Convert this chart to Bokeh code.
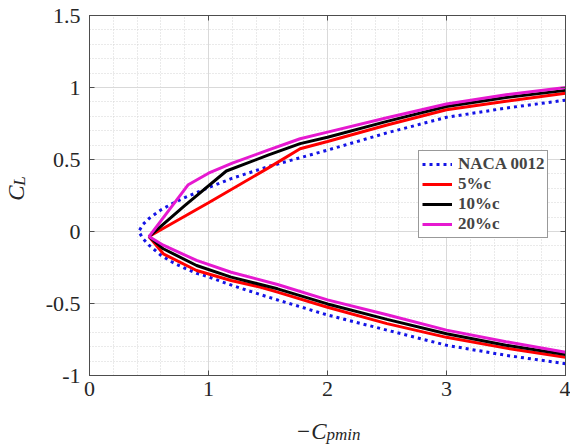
import math
from bokeh.plotting import figure
from bokeh.models import Range1d, FixedTicker, LinearAxis, Label, CustomLabelingPolicy
from bokeh.layouts import row, column
from bokeh.embed import file_html
from bokeh.resources import INLINE

# ---------------- data ----------------
# NACA 0012 (lower branch from x=4 to the tip, then upper branch)
NACA_X = [4.0, 3.5, 3.0, 2.5, 2.0, 1.5, 1.2, 1.0, 0.9, 0.8, 0.7, 0.6, 0.5, 0.45, 0.414,
          0.45, 0.5, 0.6, 0.7, 0.8, 0.9, 1.0, 1.2, 1.5, 2.0, 2.5, 3.0, 3.5, 4.0]
NACA_Y = [-0.918, -0.86, -0.79, -0.685, -0.58, -0.455, -0.375, -0.315, -0.29, -0.255, -0.215, -0.165, -0.095, -0.05, 0.0,
          0.05, 0.09, 0.15, 0.195, 0.235, 0.27, 0.305, 0.37, 0.45, 0.565, 0.685, 0.793, 0.857, 0.912]

# 5%c
C5_X = [4.0, 3.5, 3.0, 2.5, 2.0, 1.58, 1.44, 1.19, 0.9, 0.62, 0.5,
        1.0, 1.5, 1.77, 2.0, 2.5, 3.0, 3.5, 4.0]
C5_Y = [-0.873, -0.81, -0.735, -0.64, -0.526, -0.421, -0.387, -0.34, -0.271, -0.155, -0.035,
        0.2, 0.44, 0.575, 0.625, 0.74, 0.845, 0.905, 0.96]

# 10%c
C10_X = [4.0, 3.5, 3.0, 2.5, 2.0, 1.58, 1.19, 0.9, 0.62, 0.5,
         0.8, 1.15, 1.5, 1.77, 2.0, 2.5, 3.0, 3.5, 4.0]
C10_Y = [-0.854, -0.79, -0.71, -0.61, -0.503, -0.398, -0.317, -0.236, -0.12, -0.035,
         0.18, 0.42, 0.53, 0.61, 0.655, 0.765, 0.868, 0.93, 0.98]

# 20%c
C20_X = [4.0, 3.5, 3.0, 2.5, 2.0, 1.58, 1.19, 0.9, 0.62, 0.5,
         0.83, 1.0, 1.2, 1.5, 1.77, 2.0, 2.5, 3.0, 3.5, 4.0]
C20_Y = [-0.838, -0.765, -0.685, -0.578, -0.475, -0.368, -0.283, -0.201, -0.095, -0.035,
         0.325, 0.405, 0.475, 0.565, 0.644, 0.69, 0.79, 0.885, 0.95, 1.0]

SERIES_NAMES = ["NACA 0012", "5%c", "10%c", "20%c"]
SERIES_COLORS = ["#1414e6", "#ff0000", "#000000", "#e619d0"]

X_TICKS = [0, 1, 2, 3, 4]
X_MINOR = [round(0.2 * i, 1) for i in range(21)]
Y_TICKS = [-1, -0.5, 0, 0.5, 1, 1.5]
Y_MINOR = [round(-1 + 0.1 * i, 1) for i in range(26)]
X_LABELS = {0: "0", 1: "1", 2: "2", 3: "3", 4: "4"}
Y_LABELS = {-1: "-1", -0.5: "-0.5", 0: "0", 0.5: "0.5", 1: "1", 1.5: "1.5"}

Y_TITLE = ("C", "L")
X_TITLE = ("\u2212C", "pmin")

FONT = "Liberation Serif"
AXIS_COLOR = "#4d4d4d"
TEXT_COLOR = "#262626"

# ---------------- main plot ----------------
p = figure(width=540, height=408, x_range=Range1d(0, 4), y_range=Range1d(-1, 1.5),
           output_backend="svg", toolbar_location=None,
           min_border_left=59, min_border_right=5, min_border_top=15, min_border_bottom=33)
p.background_fill_color = "white"
p.border_fill_color = "white"
p.outline_line_color = AXIS_COLOR

xt = FixedTicker(ticks=X_TICKS, minor_ticks=X_MINOR)
yt = FixedTicker(ticks=Y_TICKS, minor_ticks=Y_MINOR)


def style_axis(ax, ticker, labels, show_labels=True):
    ax.ticker = ticker
    ax.axis_line_color = AXIS_COLOR
    ax.major_tick_line_color = AXIS_COLOR
    ax.major_tick_in = 5
    ax.major_tick_out = 0
    ax.minor_tick_in = 0
    ax.minor_tick_out = 0
    ax.major_label_text_font = FONT
    ax.major_label_text_color = TEXT_COLOR
    if show_labels:
        ax.major_label_overrides = labels
        ax.major_label_text_font_size = "22px"
    else:
        ax.major_label_text_font_size = "0px"
        ax.major_label_standoff = 0
        ax.major_label_policy = CustomLabelingPolicy(code="return []")


style_axis(p.xaxis[0], xt, X_LABELS)
p.xaxis[0].major_label_standoff = 6
style_axis(p.yaxis[0], yt, Y_LABELS)
p.yaxis[0].major_label_standoff = 9

top = LinearAxis()
style_axis(top, xt, X_LABELS, show_labels=False)
p.add_layout(top, "above")
right = LinearAxis()
style_axis(right, yt, Y_LABELS, show_labels=False)
p.add_layout(right, "right")

for g in (p.xgrid[0], p.ygrid[0]):
    g.grid_line_color = "#d9d9d9"
    g.grid_line_width = 1
    g.minor_grid_line_color = "#d4d4d4"
    g.minor_grid_line_dash = "1 2"
    g.minor_grid_line_width = 1

data = [(NACA_X, NACA_Y), (C5_X, C5_Y), (C10_X, C10_Y), (C20_X, C20_Y)]
for (xs, ys), name, col in zip(data, SERIES_NAMES, SERIES_COLORS):
    if name == "NACA 0012":
        p.line(xs, ys, line_color=col, line_width=3, line_dash="3 4", legend_label=name)
    else:
        p.line(xs, ys, line_color=col, line_width=3, legend_label=name)

lg = p.legend[0]
lg.location = (329, 137)
lg.label_text_font = FONT
lg.label_text_font_style = "bold"
lg.label_text_font_size = "17px"
lg.glyph_width = 30
lg.glyph_height = 16
lg.label_height = 16
lg.label_standoff = 6
lg.spacing = 0
lg.padding = 3
lg.margin = 0
lg.border_line_color = "#333333"
lg.border_line_width = 1
lg.background_fill_alpha = 1

# ---------------- axis titles (real text, in narrow side panels) ----------------
ylab = figure(width=30, height=408, x_range=Range1d(0, 30), y_range=Range1d(0, 408),
              output_backend="svg", toolbar_location=None, min_border=0,
              x_axis_type=None, y_axis_type=None)
ylab.grid.visible = False
ylab.outline_line_color = None
ylab.add_layout(Label(x=16, y=198, text=Y_TITLE[0], angle=math.pi / 2,
                      text_font=FONT, text_font_style="italic", text_font_size="23px",
                      text_align="left", text_baseline="middle", text_color=TEXT_COLOR))
ylab.add_layout(Label(x=19, y=215, text=Y_TITLE[1], angle=math.pi / 2,
                      text_font=FONT, text_font_style="italic", text_font_size="17px",
                      text_align="left", text_baseline="middle", text_color=TEXT_COLOR))

xlab = figure(width=570, height=36, x_range=Range1d(0, 570), y_range=Range1d(0, 36),
              output_backend="svg", toolbar_location=None, min_border=0,
              x_axis_type=None, y_axis_type=None)
xlab.grid.visible = False
xlab.outline_line_color = None
xlab.add_layout(Label(x=326, y=13, text=X_TITLE[0],
                      text_font=FONT, text_font_style="italic", text_font_size="23px",
                      text_align="right", text_baseline="alphabetic", text_color=TEXT_COLOR))
xlab.add_layout(Label(x=326, y=10, text=X_TITLE[1],
                      text_font=FONT, text_font_style="italic", text_font_size="17px",
                      text_align="left", text_baseline="alphabetic", text_color=TEXT_COLOR))

layout = column(row(ylab, p, spacing=0), xlab, spacing=0)

open("out.html", "w").write(file_html(layout, INLINE))
